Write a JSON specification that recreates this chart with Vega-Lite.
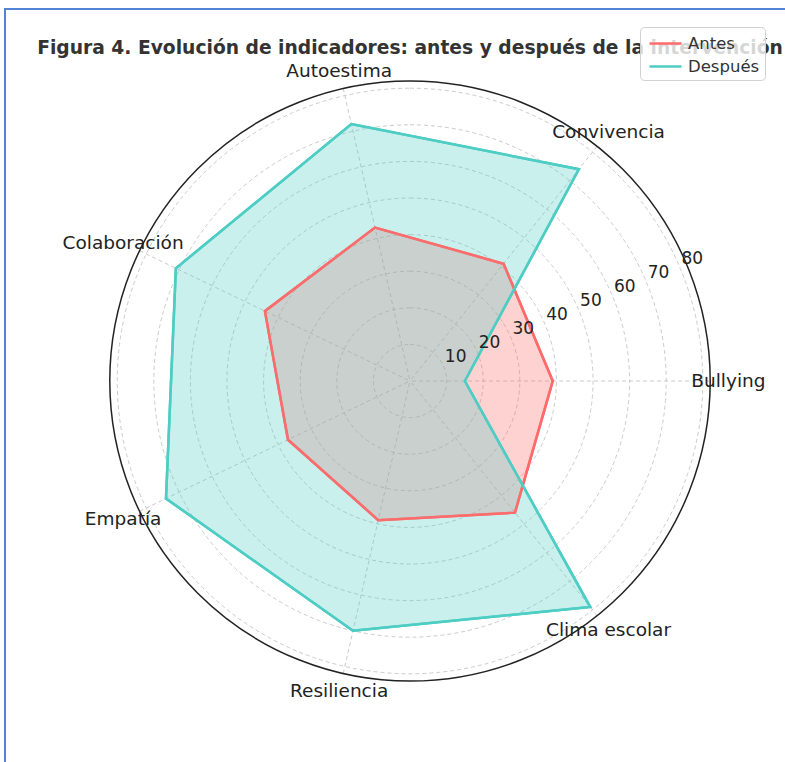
{
  "$schema": "https://vega.github.io/schema/vega-lite/v6.json",
  "width": 810,
  "height": 810,
  "autosize": {"type": "none"},
  "padding": {"left": 5, "top": 9, "right": 0, "bottom": 0},
  "background": "white",
  "config": {
    "view": {"stroke": "#5383d6", "strokeWidth": 2},
    "font": "DejaVu Sans"
  },
  "title": {
    "text": "Figura 4. Evolución de indicadores: antes y después de la intervención",
    "font": "DejaVu Sans",
    "fontSize": 18.7,
    "fontWeight": "bold",
    "color": "#333333",
    "anchor": "middle",
    "frame": "group",
    "baseline": "alphabetic",
    "offset": -44,
    "dy": 20
  },
  "datasets": {
    "ejes": [
      {"indicador": "Bullying", "i": 0},
      {"indicador": "Convivencia", "i": 1},
      {"indicador": "Autoestima", "i": 2},
      {"indicador": "Colaboración", "i": 3},
      {"indicador": "Empatía", "i": 4},
      {"indicador": "Resiliencia", "i": 5},
      {"indicador": "Clima escolar", "i": 6}
    ],
    "valores": [
      {"serie": "Antes", "indicador": "Bullying", "i": 0, "valor": 39},
      {"serie": "Antes", "indicador": "Convivencia", "i": 1, "valor": 41},
      {"serie": "Antes", "indicador": "Autoestima", "i": 2, "valor": 43},
      {"serie": "Antes", "indicador": "Colaboración", "i": 3, "valor": 44},
      {"serie": "Antes", "indicador": "Empatía", "i": 4, "valor": 37},
      {"serie": "Antes", "indicador": "Resiliencia", "i": 5, "valor": 39},
      {"serie": "Antes", "indicador": "Clima escolar", "i": 6, "valor": 46},
      {"serie": "Después", "indicador": "Bullying", "i": 0, "valor": 15},
      {"serie": "Después", "indicador": "Convivencia", "i": 1, "valor": 74},
      {"serie": "Después", "indicador": "Autoestima", "i": 2, "valor": 72},
      {"serie": "Después", "indicador": "Colaboración", "i": 3, "valor": 71},
      {"serie": "Después", "indicador": "Empatía", "i": 4, "valor": 74},
      {"serie": "Después", "indicador": "Resiliencia", "i": 5, "valor": 70},
      {"serie": "Después", "indicador": "Clima escolar", "i": 6, "valor": 79}
    ],
    "marcas": [
      {"v": 10}, {"v": 20}, {"v": 30}, {"v": 40},
      {"v": 50}, {"v": 60}, {"v": 70}, {"v": 80}
    ]
  },
  "layer": [
    {
      "data": {"name": "marcas"},
      "mark": {"type": "arc", "theta": 0, "theta2": 6.2832, "filled": false, "stroke": "#c4c4c4", "strokeWidth": 0.9, "strokeDash": [4, 3]},
      "encoding": {
        "x": {"datum": 0, "type": "quantitative", "scale": {"domain": [-110.66, 110.66], "nice": false, "zero": false}, "axis": null},
        "y": {"datum": 0, "type": "quantitative", "scale": {"domain": [-119.67, 101.64], "nice": false, "zero": false}, "axis": null},
        "radius": {"field": "v", "type": "quantitative", "stack": null, "scale": {"type": "linear", "domain": [0, 110.66], "range": [0, 405], "nice": false, "zero": true}}
      }
    },
    {
      "data": {"name": "ejes"},
      "transform": [
        {"calculate": "datum.i * 2 * PI / 7", "as": "a"},
        {"calculate": "82 * cos(datum.a)", "as": "ex"},
        {"calculate": "82 * sin(datum.a)", "as": "ey"}
      ],
      "mark": {"type": "rule", "stroke": "#c4c4c4", "strokeWidth": 0.9, "strokeDash": [4, 3]},
      "encoding": {
        "x": {"field": "ex", "type": "quantitative", "axis": null},
        "y": {"field": "ey", "type": "quantitative", "axis": null},
        "x2": {"datum": 0},
        "y2": {"datum": 0}
      }
    },
    {
      "data": {"values": [{}]},
      "mark": {"type": "arc", "theta": 0, "theta2": 6.2832, "filled": false, "stroke": "#222222", "strokeWidth": 1.5},
      "encoding": {
        "x": {"datum": 0, "type": "quantitative", "axis": null},
        "y": {"datum": 0, "type": "quantitative", "axis": null},
        "radius": {"datum": 82, "type": "quantitative", "stack": null}
      }
    },
    {
      "data": {"name": "valores"},
      "transform": [
        {"calculate": "datum.i * 2 * PI / 7", "as": "a"},
        {"calculate": "datum.valor * cos(datum.a)", "as": "px"},
        {"calculate": "datum.valor * sin(datum.a)", "as": "py"}
      ],
      "mark": {"type": "line", "interpolate": "linear-closed", "strokeWidth": 2.5, "fillOpacity": 0.3},
      "encoding": {
        "x": {"field": "px", "type": "quantitative", "axis": null},
        "y": {"field": "py", "type": "quantitative", "axis": null},
        "order": {"field": "i", "type": "quantitative"},
        "color": {
          "field": "serie", "type": "nominal",
          "scale": {"domain": ["Antes", "Después"], "range": ["#ff6b6b", "#4ecdc4"]},
          "legend": {
            "title": null, "orient": "none", "legendX": 635, "legendY": 18,
            "symbolType": "M-1.6,0H1.6", "symbolSize": 400, "symbolStrokeWidth": 2.5,
            "symbolOffset": 9,
            "labelFontSize": 16.5, "labelColor": "#333333", "labelFont": "DejaVu Sans",
            "labelOffset": 11, "rowPadding": 3, "padding": 5,
            "fillColor": "rgba(255,255,255,0.8)", "strokeColor": "#d0d0d0",
            "cornerRadius": 4, "zindex": 2
          }
        },
        "fill": {
          "field": "serie", "type": "nominal",
          "scale": {"domain": ["Antes", "Después"], "range": ["#ff6b6b", "#4ecdc4"]},
          "legend": null
        }
      }
    },
    {
      "data": {"name": "valores"},
      "transform": [
        {"calculate": "datum.i * 2 * PI / 7", "as": "a"},
        {"calculate": "datum.valor * cos(datum.a)", "as": "px"},
        {"calculate": "datum.valor * sin(datum.a)", "as": "py"}
      ],
      "mark": {"type": "line", "interpolate": "linear-closed", "strokeWidth": 2.5},
      "encoding": {
        "x": {"field": "px", "type": "quantitative", "axis": null},
        "y": {"field": "py", "type": "quantitative", "axis": null},
        "order": {"field": "i", "type": "quantitative"},
        "stroke": {
          "field": "serie", "type": "nominal",
          "scale": {"domain": ["Antes", "Después"], "range": ["#ff6b6b", "#4ecdc4"]},
          "legend": null
        }
      }
    },
    {
      "data": {"name": "ejes"},
      "transform": [
        {"calculate": "datum.i * 2 * PI / 7", "as": "a"},
        {"calculate": "87 * cos(datum.a)", "as": "lx"},
        {"calculate": "87 * sin(datum.a)", "as": "ly"}
      ],
      "mark": {"type": "text", "fontSize": 18.5, "color": "#222222", "align": "center", "baseline": "middle", "font": "DejaVu Sans"},
      "encoding": {
        "x": {"field": "lx", "type": "quantitative", "axis": null},
        "y": {"field": "ly", "type": "quantitative", "axis": null},
        "text": {"field": "indicador"}
      }
    },
    {
      "data": {"name": "marcas"},
      "transform": [
        {"calculate": "datum.v * cos(PI / 8)", "as": "tx"},
        {"calculate": "datum.v * sin(PI / 8)", "as": "ty"}
      ],
      "mark": {"type": "text", "fontSize": 17, "color": "#222222", "align": "left", "baseline": "middle", "dx": 1, "dy": -10, "font": "DejaVu Sans"},
      "encoding": {
        "x": {"field": "tx", "type": "quantitative", "axis": null},
        "y": {"field": "ty", "type": "quantitative", "axis": null},
        "text": {"field": "v", "type": "quantitative"}
      }
    }
  ]
}
